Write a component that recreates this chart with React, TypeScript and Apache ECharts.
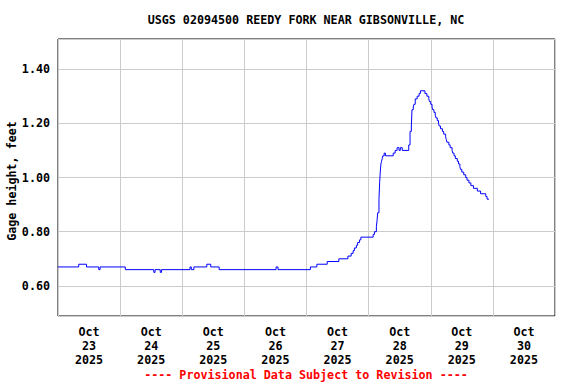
import React, { useEffect, useRef } from "react";
import * as echarts from "echarts";

const TITLE = "USGS 02094500 REEDY FORK NEAR GIBSONVILLE, NC";
const FOOTER = "---- Provisional Data Subject to Revision ----";
const Y_NAME = "Gage height, feet";
const DAY_LABELS = ["Oct\n23\n2025", "Oct\n24\n2025", "Oct\n25\n2025", "Oct\n26\n2025", "Oct\n27\n2025", "Oct\n28\n2025", "Oct\n29\n2025", "Oct\n30\n2025"];

// readings: "DD HH:mm" (October 2025) and gage height in feet
const times = [
  "23 00:00", "23 08:00", "23 11:00", "23 15:45", "23 16:15",
  "24 02:00", "24 13:00", "24 13:30", "24 15:30", "24 16:00",
  "25 03:00", "25 03:30", "25 04:30", "25 09:30", "25 11:00", "25 14:15",
  "26 12:15", "26 13:00",
  "27 01:30", "27 04:00", "27 08:00", "27 12:30", "27 16:00", "27 17:15", "27 18:00", "27 18:30",
  "27 19:15", "27 19:45", "27 20:30", "27 21:00",
  "28 01:45", "28 02:15", "28 03:00", "28 03:15", "28 03:30", "28 04:00", "28 04:15", "28 04:30",
  "28 04:45", "28 05:00", "28 05:15", "28 05:30", "28 06:00", "28 06:30", "28 09:30", "28 10:15",
  "28 11:00", "28 11:45", "28 12:15", "28 13:00", "28 15:30", "28 16:00", "28 16:30", "28 16:45",
  "28 17:15", "28 17:30", "28 18:00", "28 18:45", "28 19:30", "28 20:00", "28 21:45", "28 22:30",
  "28 23:15", "28 23:30", "29 00:00", "29 00:30", "29 00:45", "29 01:15", "29 01:45", "29 02:00",
  "29 02:30", "29 03:00", "29 03:15", "29 03:45", "29 04:30", "29 05:00", "29 05:45", "29 06:00",
  "29 06:15", "29 07:00", "29 07:30", "29 08:15", "29 08:30", "29 09:00", "29 09:30", "29 10:15",
  "29 10:45", "29 11:15", "29 11:30", "29 12:00", "29 12:45", "29 13:30", "29 14:00", "29 14:45",
  "29 15:30", "29 16:30", "29 18:00", "29 19:15", "29 21:15", "29 21:45", "29 22:30",
];
const heights = [
  0.67, 0.68, 0.67, 0.66, 0.67,
  0.66, 0.65, 0.66, 0.65, 0.66,
  0.67, 0.66, 0.67, 0.68, 0.67, 0.66,
  0.67, 0.66,
  0.67, 0.68, 0.69, 0.70, 0.71, 0.72, 0.73, 0.74,
  0.75, 0.76, 0.77, 0.78,
  0.79, 0.80, 0.82, 0.84, 0.87, 0.92, 0.98, 1.02,
  1.05, 1.06, 1.07, 1.08, 1.09, 1.08, 1.09, 1.10,
  1.11, 1.10, 1.11, 1.10, 1.12, 1.17, 1.19, 1.25,
  1.26, 1.27, 1.29, 1.30, 1.31, 1.32, 1.31, 1.30,
  1.29, 1.28, 1.27, 1.26, 1.25, 1.24, 1.23, 1.22,
  1.21, 1.20, 1.19, 1.18, 1.17, 1.16, 1.15, 1.14,
  1.13, 1.12, 1.11, 1.10, 1.09, 1.08, 1.07, 1.06,
  1.05, 1.04, 1.03, 1.02, 1.01, 1.00, 0.99, 0.98,
  0.97, 0.96, 0.95, 0.94, 0.93, 0.92, 0.92,
];

const START_DAY = 23;
const toHours = (s: string) => {
  const [d, hm] = s.split(" ");
  const [h, m] = hm.split(":").map(Number);
  return (Number(d) - START_DAY) * 24 + h + m / 60;
};

const FONT = "DejaVu Sans Mono";
const FS = 11.7;

export default function App() {
  const ref = useRef<HTMLDivElement>(null);
  useEffect(() => {
    document.body.style.margin = "0";
    const chart = echarts.init(ref.current!, undefined, { renderer: "svg" });
    const data = times.map((t, i) => [toHours(t), heights[i]]);
    const textBase = { fontFamily: FONT, fontWeight: "bold" as const, fontSize: FS, color: "#000" };
    const font = `bold ${FS}px "${FONT}"`;
    chart.setOption({
      animation: false,
      backgroundColor: "#fff",
      grid: {
        left: 58, top: 39, width: 497, height: 277, show: true, borderColor: "#000", borderWidth: 1,
        backgroundColor: "transparent", containLabel: false, outerBoundsMode: "none",
      },
      graphic: [
        { type: "text", x: 306, y: 20, style: { text: TITLE, x: 0, y: 0, align: "center", verticalAlign: "middle", font, fill: "#000" } },
        { type: "text", x: 306, y: 375, style: { text: FOOTER, x: 0, y: 0, align: "center", verticalAlign: "middle", font, fill: "#ff0000" } },
        { type: "text", x: 12, y: 181, rotation: Math.PI / 2, style: { text: Y_NAME, x: 0, y: 0, align: "center", verticalAlign: "middle", font, fill: "#000" } },
      ],
      xAxis: [
        {
          type: "value", min: 0, max: 192, interval: 24,
          axisLine: { show: false }, axisTick: { show: false }, axisLabel: { show: false },
          splitLine: { show: true, lineStyle: { color: "#cccccc", width: 1 } },
        },
        {
          type: "category", data: DAY_LABELS, position: "bottom", boundaryGap: true,
          axisLine: { show: false }, axisTick: { show: false }, splitLine: { show: false },
          axisLabel: { ...textBase, margin: 9, lineHeight: 14, interval: 0 },
        },
      ],
      yAxis: {
        type: "value", min: 0.489, max: 1.511, splitNumber: 5,
        axisLine: { show: false }, axisTick: { show: false },
        axisLabel: { ...textBase, margin: 8, showMinLabel: false, showMaxLabel: false, formatter: (v: number) => v.toFixed(2) },
        splitLine: { show: true, lineStyle: { color: "#cccccc", width: 1 } },
      },
      series: [
        {
          type: "line", xAxisIndex: 0, data, step: "end", showSymbol: false,
          lineStyle: { color: "#0000ff", width: 1 }, silent: true,
        },
      ],
    });
    return () => chart.dispose();
  }, []);
  return <div ref={ref} style={{ position: "fixed", left: 0, top: 0, width: 576, height: 384 }} />;
}
